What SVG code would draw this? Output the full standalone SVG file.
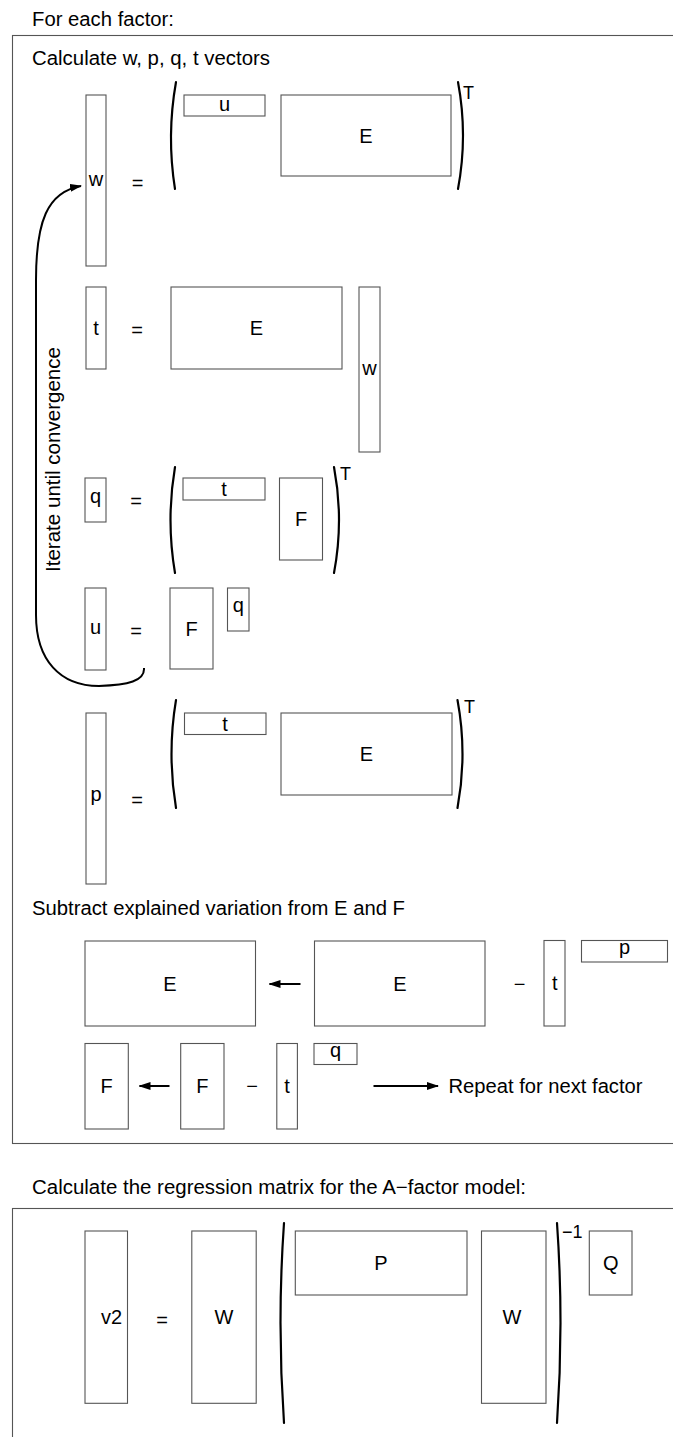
<svg xmlns="http://www.w3.org/2000/svg" width="673" height="1437" viewBox="0 0 673 1437">
<style>
text{font-family:"Liberation Sans",Arial,Helvetica,sans-serif;font-size:20px;fill:#000}
.c{text-anchor:middle}
.sup{font-size:18px}
.box{fill:none;stroke:#555;stroke-width:1.1}
.frame{fill:none;stroke:#555;stroke-width:1.1}
.par{fill:none;stroke:#000;stroke-width:2.2;stroke-linecap:round}
.arr{fill:none;stroke:#000;stroke-width:2}
</style>
<defs>
<marker id="ah" markerUnits="userSpaceOnUse" markerWidth="12" markerHeight="8" refX="11" refY="4" orient="auto">
<path d="M0,0 L12,4 L0,8 Z" fill="#000"/>
</marker>
</defs>

<g id="headings">
<text x="32" y="26" textLength="142" lengthAdjust="spacingAndGlyphs">For each factor:</text>
<text x="32" y="65" textLength="238" lengthAdjust="spacingAndGlyphs">Calculate w, p, q, t vectors</text>
<text x="32" y="915" textLength="373" lengthAdjust="spacingAndGlyphs">Subtract explained variation from E and F</text>
<text x="32" y="1194" textLength="494" lengthAdjust="spacingAndGlyphs">Calculate the regression matrix for the A−factor model:</text>
</g>

<g id="frames">
<rect class="frame" x="12.5" y="35.5" width="700" height="1108"/>
<rect class="frame" x="12.5" y="1208.5" width="700" height="300"/>
</g>

<g id="row-w">
<rect class="box" x="86" y="95" width="20" height="171"/><text class="c" x="96" y="185.7">w</text>
<text class="c" x="137.5" y="190">=</text>
<path class="par" d="M176,82 Q166.5,135.5 175,189"/>
<rect class="box" x="184" y="95" width="81" height="21"/><text class="c" x="224.5" y="110.7">u</text>
<rect class="box" x="281" y="95" width="170" height="81"/><text class="c" x="366" y="142.7">E</text>
<path class="par" d="M458,82 Q468,135.5 458,189"/>
<text class="sup" x="463" y="98.5">T</text>
</g>

<g id="row-t">
<rect class="box" x="86" y="287" width="20" height="82"/><text class="c" x="96" y="335">t</text>
<text class="c" x="137" y="336.6">=</text>
<rect class="box" x="171" y="287" width="171" height="82"/><text class="c" x="256.5" y="335.2">E</text>
<rect class="box" x="359" y="287" width="21" height="165"/><text class="c" x="369.5" y="374.7">w</text>
</g>

<g id="row-q">
<rect class="box" x="85" y="478" width="21" height="44"/><text class="c" x="95.5" y="503">q</text>
<text class="c" x="136" y="508.3">=</text>
<path class="par" d="M175,467 Q166,520 175,573"/>
<rect class="box" x="183" y="478" width="82" height="22"/><text class="c" x="224" y="496">t</text>
<rect class="box" x="279.5" y="478" width="43" height="82"/><text class="c" x="301" y="526.2">F</text>
<path class="par" d="M334,467 Q344,520 334,573"/>
<text class="sup" x="340" y="480">T</text>
</g>

<g id="row-u">
<rect class="box" x="85" y="588" width="21" height="82"/><text class="c" x="95.5" y="634">u</text>
<text class="c" x="136" y="637.6">=</text>
<rect class="box" x="170" y="588" width="43" height="81"/><text class="c" x="191.7" y="635.7">F</text>
<rect class="box" x="227.5" y="588" width="21.5" height="43"/><text class="c" x="238.3" y="612.3">q</text>
</g>

<g id="row-p">
<rect class="box" x="86" y="713" width="20" height="171"/><text class="c" x="96" y="801">p</text>
<text class="c" x="137" y="806.6">=</text>
<path class="par" d="M176,700 Q167,754 176,808"/>
<rect class="box" x="184.5" y="713" width="81.5" height="21.5"/><text class="c" x="225" y="730.5">t</text>
<rect class="box" x="281" y="713" width="171" height="82"/><text class="c" x="366.5" y="760.9">E</text>
<path class="par" d="M457.5,700 Q467.5,754 457.5,808"/>
<text class="sup" x="464" y="713">T</text>
</g>

<g id="subtract-E">
<rect class="box" x="85" y="941" width="170.5" height="85"/><text class="c" x="170" y="990.5">E</text>
<rect class="box" x="314.5" y="941" width="170.5" height="85"/><text class="c" x="400" y="990.5">E</text>
<text class="c" x="519.5" y="990.6">−</text>
<rect class="box" x="544" y="940.5" width="21" height="85.5"/><text class="c" x="554.7" y="990.3">t</text>
<rect class="box" x="581.5" y="940.5" width="86" height="21.5"/><text class="c" x="624.5" y="953.9">p</text>
</g>

<g id="subtract-F">
<rect class="box" x="85" y="1043.5" width="43.3" height="85.5"/><text class="c" x="106.7" y="1093.2">F</text>
<rect class="box" x="180.7" y="1043.5" width="43.3" height="85.5"/><text class="c" x="202.4" y="1093.2">F</text>
<text class="c" x="252" y="1092.6">−</text>
<rect class="box" x="276.8" y="1043.5" width="20.6" height="85.5"/><text class="c" x="287" y="1093">t</text>
<rect class="box" x="314" y="1043.5" width="43" height="21"/><text class="c" x="335.5" y="1056.9">q</text>
<text x="448.5" y="1093" textLength="194" lengthAdjust="spacingAndGlyphs">Repeat for next factor</text>
</g>

<g id="regression">
<rect class="box" x="85" y="1231" width="42.5" height="172.3"/><text class="c" x="111.6" y="1324">v2</text>
<text class="c" x="162.2" y="1326.6">=</text>
<rect class="box" x="191.8" y="1231" width="64.4" height="172.3"/><text class="c" x="224" y="1324.2">W</text>
<path class="par" d="M284,1223 Q277,1323 284,1423"/>
<rect class="box" x="295.3" y="1231" width="171.7" height="64"/><text class="c" x="381" y="1270.2">P</text>
<rect class="box" x="481.5" y="1231" width="64.5" height="172.3"/><text class="c" x="512" y="1324.2">W</text>
<path class="par" d="M557,1223 Q564,1323 557,1423"/>
<text class="sup" x="562" y="1238">−1</text>
<rect class="box" x="589.3" y="1231" width="42.7" height="64"/><text class="c" x="610.7" y="1270.2">Q</text>
</g>

<g id="connectors">
<path class="arr" d="M144,668 C145,681 128,685 99,686 C60,686 36,660 36,615 L36,280 C36,222 47,192 81,186" marker-end="url(#ah)"/>
<line class="arr" x1="300.5" y1="984" x2="269.5" y2="984" marker-end="url(#ah)"/>
<line class="arr" x1="169.5" y1="1086" x2="139.5" y2="1086" marker-end="url(#ah)"/>
<line class="arr" x1="373.5" y1="1086" x2="438" y2="1086" marker-end="url(#ah)"/>
</g>

<g id="iterate-label">
<text class="c" transform="translate(59.5,459.5) rotate(-90)" textLength="225" lengthAdjust="spacingAndGlyphs">Iterate until convergence</text>
</g>
</svg>
